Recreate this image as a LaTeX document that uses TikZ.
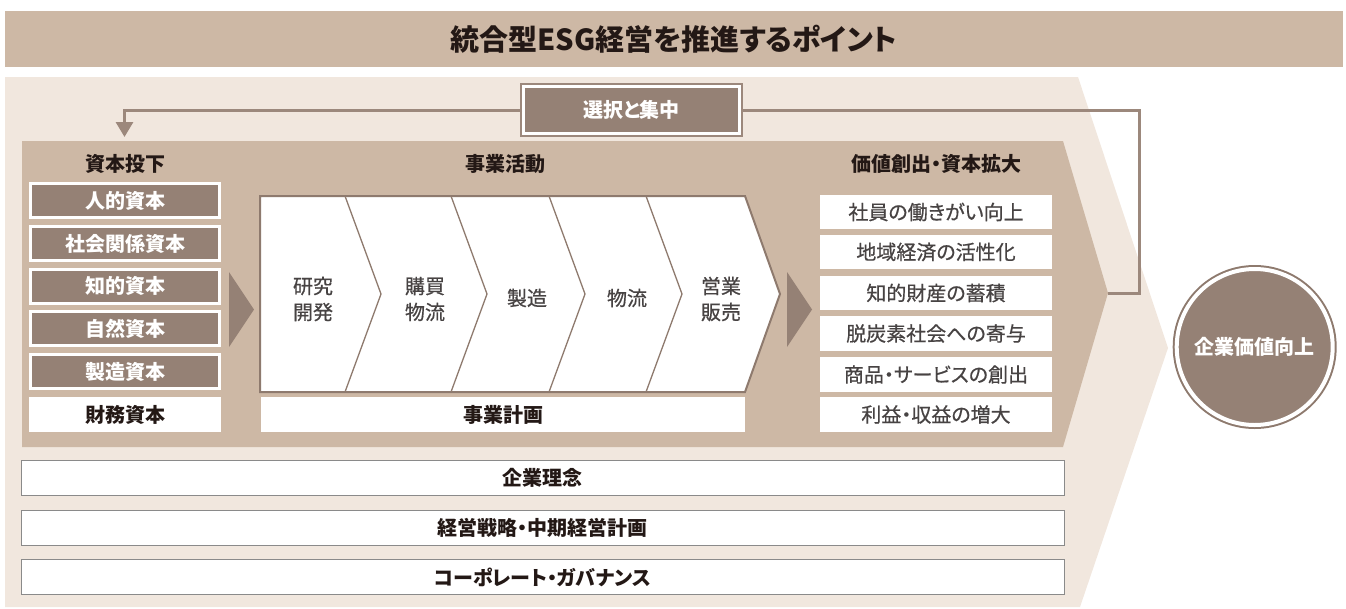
\documentclass[tikz,border=0pt]{standalone}
\usepackage{fontspec}
\setmainfont{Noto Sans CJK JP}[RawFeature=+palt]
\usetikzlibrary{arrows.meta}
\definecolor{bandtan}{HTML}{CDB8A5}
\definecolor{paletan}{HTML}{F1E7DE}
\definecolor{boxbrown}{HTML}{958175}
\definecolor{flowbrown}{HTML}{9C887C}
\definecolor{chainbrown}{HTML}{8E7A6E}
\definecolor{headink}{HTML}{231815}
\definecolor{textgray}{HTML}{474343}
\definecolor{rulegray}{HTML}{8A8A8A}
\begin{document}
\begin{tikzpicture}[x=1pt, y=-1pt,
  head/.style={font=\fontsize{20}{24}\selectfont\bfseries, text=headink},
  capbox/.style={fill=boxbrown, draw=white, line width=3pt, minimum width=189pt, minimum height=34pt, inner sep=0pt, text=white, font=\fontsize{20}{24}\selectfont\bfseries},
  whitebox/.style={fill=white, inner sep=0pt, minimum height=35pt, text=headink, font=\fontsize{20}{24}\selectfont\bfseries},
  valbox/.style={fill=white, inner sep=0pt, minimum width=232pt, minimum height=34.5pt, text=textgray, font=\fontsize{20}{24}\selectfont\addfontfeature{FakeBold=0.6}},
  steptext/.style={text=textgray, align=center, font=\fontsize{20}{26}\selectfont\addfontfeature{FakeBold=0.6}},
  basebox/.style={fill=white, draw=rulegray, line width=1pt, minimum width=1043pt, minimum height=35pt, inner sep=0pt, text=headink, font=\fontsize{20}{24}\selectfont\bfseries},
  flow/.style={draw=flowbrown, line width=3pt},
  selbox/.style={fill=boxbrown, draw=white, line width=3pt, minimum width=216pt, minimum height=47pt, inner sep=0pt, preaction={draw=flowbrown, line width=7pt}, text=white, font=\fontsize{20}{24}\selectfont\bfseries},
  goal/.style={circle, fill=boxbrown, draw=white, line width=4pt, minimum size=156pt, inner sep=0pt, preaction={draw=chainbrown, line width=8pt}, text=white, font=\fontsize{20}{24}\selectfont\bfseries},
]
\useasboundingbox (0,0) rectangle (1346,608);
\fill[bandtan] (5,11) rectangle (1343,67);
\node[font=\fontsize{29}{32}\selectfont\bfseries, text=headink] (title) at (674,39) {統合型ESG経営を推進するポイント};

\fill[paletan] (5,77) -- (1078,77) -- (1168,348) -- (1080,607) -- (5,607) -- cycle;
\fill[bandtan] (22,141) -- (1063,141) -- (1108,293) -- (1063,447) -- (22,447) -- cycle;

\node[selbox] (sel) at (631.5,110) {選択と集中};
\coordinate (drop) at (124.5,137);
\coordinate (turn) at (1139,293);
\coordinate (tip) at (1108,293);
\draw[flow, -{Triangle[length=15pt, width=17pt]}] (sel.west) -| (drop);
\draw[flow] (sel.east) -| (turn) -- (tip);

\node[head] (capital) at (125,164) {資本投下};
\node[capbox] (human) at (125,200.5) {人的資本};
\node[capbox] (social) at (125,243.5) {社会関係資本};
\node[capbox] (intel) at (125,286) {知的資本};
\node[capbox] (nature) at (125,328.5) {自然資本};
\node[capbox] (made) at (125,371.5) {製造資本};
\node[whitebox, minimum width=192pt] (finance) at (125,414.5) {財務資本};

\fill[boxbrown] (229,272) -- (254,309.5) -- (229,347) -- cycle;
\fill[boxbrown] (787,272) -- (812,309.5) -- (787,347) -- cycle;

\node[head] (business) at (505,164) {事業活動};
\filldraw[fill=white, draw=chainbrown, line width=2pt] (260,196) -- (745,196) -- (780,294) -- (745,392) -- (260,392) -- cycle;
\draw[chainbrown, line width=1.3pt] (345,196) -- (381,294) -- (345,392);
\draw[chainbrown, line width=1.3pt] (451,196) -- (487,294) -- (451,392);
\draw[chainbrown, line width=1.3pt] (549,196) -- (585,294) -- (549,392);
\draw[chainbrown, line width=1.3pt] (646,196) -- (682,294) -- (646,392);
\node[steptext] (rd) at (313,299) {研究\\開発};
\node[steptext] (buy) at (425,299) {購買\\物流};
\node[steptext] (make) at (527,298) {製造};
\node[steptext] (ship) at (627,298) {物流};
\node[steptext] (sell) at (721,299) {営業\\販売};
\node[whitebox, minimum width=484pt] (plan) at (503,414.5) {事業計画};

\node[head] (value) at (936,164) {価値創出・資本拡大};
\node[valbox] (v1) at (936,212) {社員の働きがい向上};
\node[valbox] (v2) at (936,252) {地域経済の活性化};
\node[valbox] (v3) at (936,293) {知的財産の蓄積};
\node[valbox] (v4) at (936,333.5) {脱炭素社会への寄与};
\node[valbox] (v5) at (936,374.5) {商品・サービスの創出};
\node[valbox] (v6) at (936,414.5) {利益・収益の増大};

\node[goal] (corp) at (1254.7,347) {企業価値向上};

\node[basebox] (idea) at (542.5,478) {企業理念};
\node[basebox] (strategy) at (542.5,527.5) {経営戦略・中期経営計画};
\node[basebox] (gov) at (542.5,577) {コーポレート・ガバナンス};
\end{tikzpicture}
\end{document}
